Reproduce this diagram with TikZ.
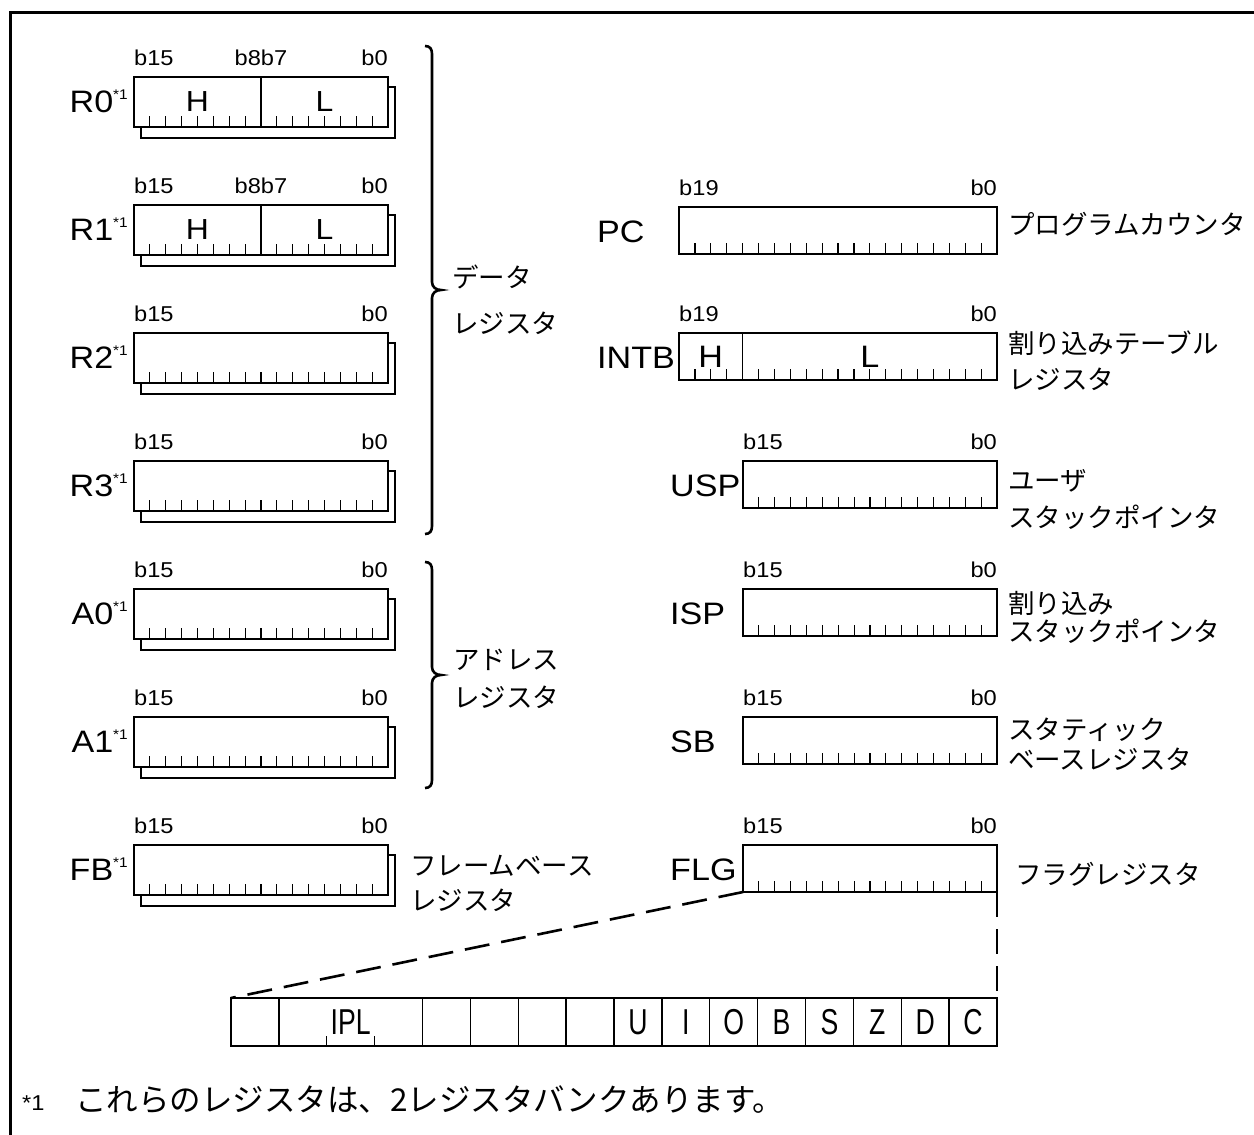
\documentclass[tikz,border=0pt]{standalone}
\usepackage{fontspec}
\setmainfont{Liberation Sans}
\newfontfamily\lat[FakeStretch=1.1]{Liberation Sans}
\newfontfamily\latn[FakeStretch=0.74]{Liberation Sans}
\newfontfamily\jp{Noto Sans CJK JP}
\usetikzlibrary{calc}
\newcommand{\regstar}{\raisebox{13pt}{\fontsize{14}{14}\selectfont *1}}
\tikzset{
  frameline/.style={line width=2.8pt},
  reg/.style={draw, line width=2.6pt, inner sep=0pt, outer sep=0pt, anchor=north west},
  shadowline/.style={line width=2.6pt},
  tickline/.style={line width=1.2pt},
  divline/.style={line width=1.4pt},
  bitlab/.style={font=\lat\fontsize{21.5}{21.5}\selectfont, inner sep=0pt},
  regname/.style={font=\lat\fontsize{31}{31}\selectfont, inner sep=0pt},
  hl/.style={font=\lat\fontsize{29}{29}\selectfont, inner sep=0pt},
  jlab/.style={font=\jp\fontsize{26.5}{26.5}\selectfont, inner sep=0pt, anchor=west},
  bracepath/.style={line width=2.6pt},
  zoomline/.style={line width=2.6pt, dash pattern=on 25pt off 12pt},
  cellline/.style={line width=1.4pt},
  flaglab/.style={font=\latn\fontsize{36}{36}\selectfont, inner sep=0pt},
}
% id, left x, top, width, height, nbits
\newcommand{\regbody}[6]{%
  \node[reg, minimum width=#4pt, minimum height=#5pt] (#1) at (#2,#3) {};
  \pgfmathtruncatemacro\nmo{#6-1}%
  \foreach \k in {1,...,\nmo} {\draw[tickline] ($(#1.south west)!\k/#6!(#1.south east)$) -- ++(0,-11);}
}
\newcommand{\regshadow}[1]{%
  \draw[shadowline] ([yshift=-10pt]#1.north east) -- ++(7,0) |- ([xshift=7pt,yshift=-11pt]#1.south west) -- ([xshift=7pt]#1.south west);}
% id, hi-label
\newcommand{\bitlabels}[2]{%
  \node[bitlab, anchor=base west] (#1-hi) at ([yshift=12pt]#1.north west) {#2};
  \node[bitlab, anchor=base east] (#1-lo) at ([yshift=12pt]#1.north east) {b0};}
% id, top, name
\newcommand{\leftreg}[3]{%
  \regbody{#1}{134}{#2}{254}{50}{16}
  \regshadow{#1}
  \bitlabels{#1}{b15}
  \node[regname, anchor=base east] (#1-name) at ([xshift=-6pt,yshift=-35pt]#1.north west) {#3\regstar};}
\begin{document}
\begin{tikzpicture}[x=1pt,y=-1pt]
\useasboundingbox (0,0) rectangle (1254,1135);
\coordinate (fbl) at (10.5,1135);
\coordinate (ftl) at (10.5,12.5);
\coordinate (ftr) at (1254,12.5);
\draw[frameline] (fbl) -- (ftl) -- (ftr);

% ---------- left column ----------
\leftreg{r0}{77}{R0}
\leftreg{r1}{205}{R1}
\leftreg{r2}{333}{R2}
\leftreg{r3}{461}{R3}
\leftreg{a0}{589}{A0}
\leftreg{a1}{717}{A1}
\leftreg{fb}{845}{FB}

\foreach \r in {r0,r1} {
  \draw[divline] (\r.north) -- (\r.south);
  \node[bitlab, anchor=base] (\r-mid) at ([yshift=12pt]\r.north) {b8b7};
  \node[hl] (\r-h) at ($(\r.west)!0.25!(\r.east)$) {H};
  \node[hl] (\r-l) at ($(\r.west)!0.75!(\r.east)$) {L};
}

% braces
\draw[bracepath] (425,46) .. controls (430,46) and (432,49) .. (432,54) -- (432,282)
  .. controls (432,287) and (436,290) .. (441,290) .. controls (436,290) and (432,293) .. (432,298)
  -- (432,526) .. controls (432,531) and (430,534) .. (425,534);
\draw[bracepath] (425,562) .. controls (430,562) and (432,565) .. (432,570) -- (432,667)
  .. controls (432,672) and (436,675) .. (441,675) .. controls (436,675) and (432,678) .. (432,683)
  -- (432,780) .. controls (432,785) and (430,788) .. (425,788);

\node[jlab] (data1) at (452,277) {データ};
\node[jlab] (data2) at (452,323) {レジスタ};
\node[jlab] (addr1) at (453,660) {アドレス};
\node[jlab] (addr2) at (453,697) {レジスタ};
\node[jlab] (fbj1) at (410,866) {フレームベース};
\node[jlab] (fbj2) at (410,900) {レジスタ};

% ---------- right column ----------
\regbody{pc}{679}{207}{318}{47}{20}
\bitlabels{pc}{b19}
\node[regname, anchor=base west] (pc-name) at (597,242) {PC};
\node[jlab] (pcj) at (1008,224) {プログラムカウンタ};

\regbody{intb}{679}{333}{318}{47}{20}
\bitlabels{intb}{b19}
\draw[divline] ($(intb.north west)!0.2!(intb.north east)$) -- ($(intb.south west)!0.2!(intb.south east)$);
\node[regname, anchor=base west] (intb-name) at (597,368) {INTB};
\node[regname] (intb-h) at ($(intb.west)!0.1!(intb.east)$) {H};
\node[regname] (intb-l) at ($(intb.west)!0.6!(intb.east)$) {L};
\node[jlab] (intbj1) at (1008,343) {割り込みテーブル};
\node[jlab] (intbj2) at (1008,379) {レジスタ};

\regbody{usp}{743}{461}{254}{47}{16}
\bitlabels{usp}{b15}
\node[regname, anchor=base west] (usp-name) at (670,496) {USP};
\node[jlab] (uspj1) at (1008,481) {ユーザ};
\node[jlab] (uspj2) at (1008,517) {スタックポインタ};

\regbody{isp}{743}{589}{254}{47}{16}
\bitlabels{isp}{b15}
\node[regname, anchor=base west] (isp-name) at (670,624) {ISP};
\node[jlab] (ispj1) at (1008,603) {割り込み};
\node[jlab] (ispj2) at (1008,631) {スタックポインタ};

\regbody{sb}{743}{717}{254}{47}{16}
\bitlabels{sb}{b15}
\node[regname, anchor=base west] (sb-name) at (670,752) {SB};
\node[jlab] (sbj1) at (1008,730) {スタティック};
\node[jlab] (sbj2) at (1008,759) {ベースレジスタ};

\regbody{flg}{743}{845}{254}{47}{16}
\bitlabels{flg}{b15}
\node[regname, anchor=base west] (flg-name) at (670,880) {FLG};
\node[jlab] (flgj) at (1015,874) {フラグレジスタ};

% ---------- flag bits ----------
\node[reg, minimum width=766pt, minimum height=48pt] (bits) at (231,998) {};
\foreach \k in {1,4,5,6,7,8,9,10,11,12,13,14,15} {
  \draw[cellline] ($(bits.north west)!\k/16!(bits.north east)$) -- ($(bits.south west)!\k/16!(bits.south east)$);
}
\foreach \k in {2,3} {
  \draw[cellline] ($(bits.south west)!\k/16!(bits.south east)$) -- ++(0,-10);
}
\node[flaglab] (ipl) at ($(bits.west)!2.5/16!(bits.east)$) {IPL};
\foreach \lab [count=\i from 8] in {U,I,O,B,S,Z,D,C} {
  \node[flaglab] (flag-\lab) at ($(bits.west)!{(\i+0.5)/16}!(bits.east)$) {\lab};
}
\draw[zoomline] (flg.south west) -- (bits.north west);
\draw[zoomline] (flg.south east) -- (bits.north east);

% ---------- footnote ----------
\node[font=\lat\fontsize{21.5}{21.5}\selectfont, inner sep=0pt, anchor=base west] (fn-mark) at (22,1110) {*1};
\node[font=\jp\fontsize{31.5}{31.5}\selectfont, inner sep=0pt, anchor=base west] (fn-text) at (75,1111) {これらのレジスタは、2レジスタバンクあります。};
\end{tikzpicture}
\end{document}
